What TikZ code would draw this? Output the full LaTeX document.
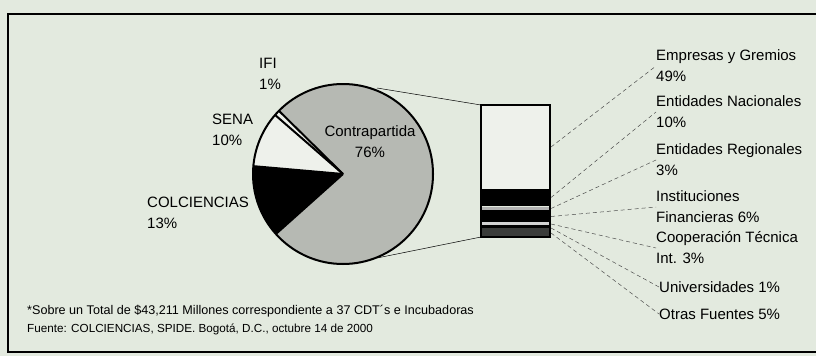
\documentclass[tikz,border=0pt]{standalone}
\usepackage{fontspec}
\setmainfont{Liberation Sans}
\definecolor{fondo}{HTML}{E3EADF}
\definecolor{gris}{HTML}{B6B9B3}
\definecolor{claro}{HTML}{EEF1EB}
\definecolor{oscuro}{HTML}{3A3C3A}
\begin{document}
\begin{tikzpicture}[x=1pt, y=-1pt,
  etiqueta/.style={anchor=west, align=left, inner sep=0pt,
    font=\fontsize{15}{21}\selectfont},
  guia/.style={gray!60!black, line width=0.5pt, dash pattern=on 4pt off 3pt},
  borde/.style={line width=2pt, line join=round}]
% Fondo y marco
\fill[fondo] (0,0) rectangle (816,356);
\useasboundingbox (0,0) rectangle (816,356);
\draw[line width=2.5pt] (830,14) -- (8,14) -- (8,352) -- (830,352);

% Torta principal
\coordinate (c) at (343,174);
\fill[gris] (c) -- ++(-135.4:90) arc[start angle=-135.4, end angle=138.2, radius=90] -- cycle;
\fill[claro] (c) -- ++(-139:90) arc[start angle=-139, end angle=-135.4, radius=90] -- cycle;
\fill[claro] (c) -- ++(-175:90) arc[start angle=-175, end angle=-139, radius=90] -- cycle;
\fill[black] (c) -- ++(-221.8:90) arc[start angle=-221.8, end angle=-175, radius=90] -- cycle;
\draw[borde] (c) circle[radius=90];
\draw[borde] (c) -- ++(-135.4:90);
\draw[borde] (c) -- ++(-139:90);
\draw[borde] (c) -- ++(-175:90);
\draw[borde] (c) -- ++(-221.8:90);

% Barra de la contrapartida
\coordinate (b1) at (481,105);
\coordinate (b2) at (481,237);
\fill[claro] (481,105) rectangle (550,189);
\fill[black] (481,189) rectangle (550,206);
\fill[gray!60] (481,206.5) rectangle (550,209.5);
\fill[black] (481,209.5) rectangle (550,221.6);
\fill[gray!35] (481,221.6) rectangle (550,224.5);
\fill[black] (481,224.5) rectangle (550,228.4);
\fill[oscuro] (481,228.4) rectangle (550,237);
\draw[line width=1.2pt] (b1) rectangle (550,237);
\draw[line width=0.5pt] (377,88) -- (b1);
\draw[line width=0.5pt] (377,258) -- (b2);

% Etiquetas de la torta
\node[etiqueta] (ifi) at (259,74) {IFI\\1\%};
\node[etiqueta] (sena) at (212,130) {SENA\\10\%};
\node[etiqueta] (colc) at (147,213) {COLCIENCIAS\\13\%};
\node[etiqueta, anchor=center, align=center] (contra) at (370,142) {Contrapartida\\76\%};

% Etiquetas de la barra
\node[etiqueta] (emp) at (656,66) {Empresas y Gremios\\49\%};
\node[etiqueta] (nac) at (656,112) {Entidades Nacionales\\10\%};
\node[etiqueta] (reg) at (656,160) {Entidades Regionales\\3\%};
\node[etiqueta] (inst) at (656,207) {Instituciones\\Financieras 6\%};
\node[etiqueta] (coop) at (656,248) {Cooperación Técnica\\Int. 3\%};
\node[etiqueta] (univ) at (659,287) {Universidades 1\%};
\node[etiqueta] (otras) at (659,314) {Otras Fuentes 5\%};

% Guias punteadas
\coordinate (s1) at (551,147);
\coordinate (s2) at (551,197.5);
\coordinate (s3) at (551,208.5);
\coordinate (s4) at (551,216.5);
\coordinate (s5) at (551,224);
\coordinate (s6) at (551,228);
\coordinate (s7) at (551,233);
\draw[guia] (s1) -- (emp.west);
\draw[guia] (s2) -- (nac.west);
\draw[guia] (s3) -- (reg.west);
\draw[guia] (s4) -- (inst.west);
\draw[guia] (s5) -- (coop.west);
\draw[guia] (s6) -- (univ.west);
\draw[guia] (s7) -- (otras.west);

% Nota al pie
\node[anchor=west, align=left, inner sep=0pt, font=\fontsize{11.7}{18}\selectfont] (nota) at (27,320)
  {{\fontsize{12.6}{18}\selectfont *Sobre un Total de \$43,211 Millones correspondiente a 37 CDT´s e Incubadoras}\\
   Fuente: COLCIENCIAS, SPIDE. Bogotá, D.C., octubre 14 de 2000};
\end{tikzpicture}
\end{document}
